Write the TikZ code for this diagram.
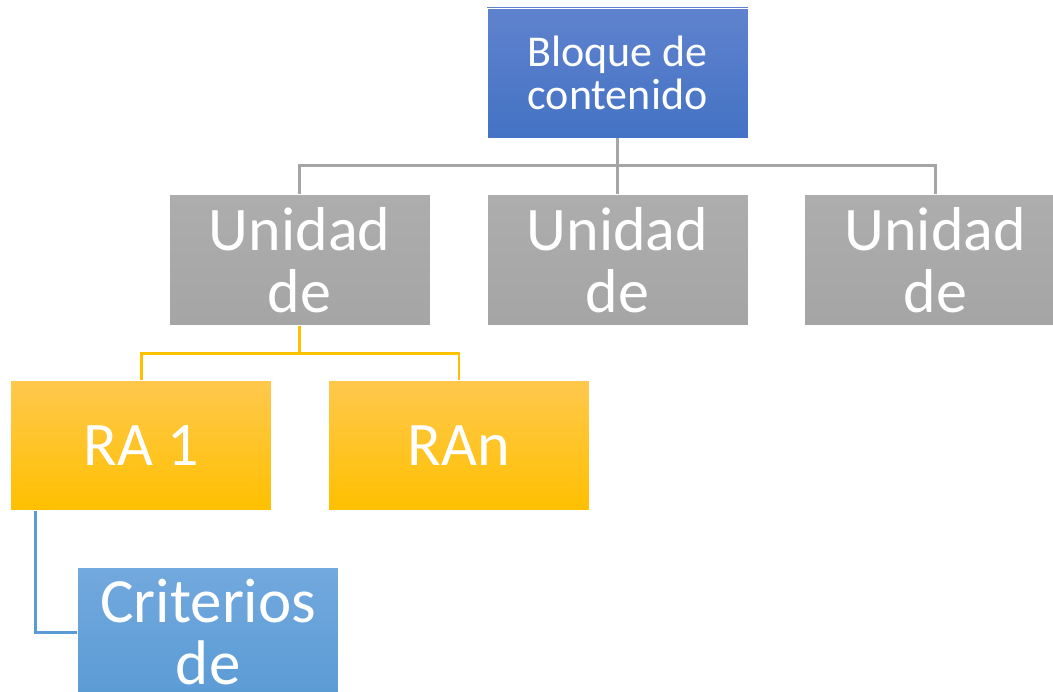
\documentclass[tikz,border=0pt]{standalone}
\usepackage{fontspec}
\setmainfont{Carlito}
\usepackage{tikz}
\usetikzlibrary{positioning}
\definecolor{blockblue}{HTML}{4472C4}
\definecolor{blockbluetop}{HTML}{5F83CE}
\definecolor{unitgray}{HTML}{A5A5A5}
\definecolor{unitgraytop}{HTML}{ADADAD}
\definecolor{ragold}{HTML}{FFC000}
\definecolor{ragoldtop}{HTML}{FFC84D}
\definecolor{critblue}{HTML}{5B9BD5}
\definecolor{critbluetop}{HTML}{72A9DE}
\tikzset{
    %Define style for boxes
    boxbase/.style={
           rectangle,
           draw=white, line width=0.8pt,
           minimum width=261pt,
           minimum height=130pt,
           inner sep=0pt,
           text=white,
           align=center},
    blockbox/.style={
           boxbase,
           top color=blockbluetop,
           bottom color=blockblue,
           font=\fontsize{44}{43}\selectfont},
    unitbox/.style={
           boxbase,
           minimum height=131pt,
           top color=unitgraytop,
           bottom color=unitgray,
           font=\fontsize{62}{62}\selectfont},
    rabox/.style={
           boxbase,
           top color=ragoldtop,
           bottom color=ragold,
           font=\fontsize{62}{62}\selectfont},
    critbox/.style={
           boxbase,
           top color=critbluetop,
           bottom color=critblue,
           font=\fontsize{63}{62}\selectfont},
    % Define connector styles
    graylink/.style={draw=unitgray, line width=2.8pt},
    goldlink/.style={draw=ragold, line width=2.8pt},
    bluelink/.style={draw=critblue, line width=2.8pt}
}

\begin{document}
\begin{tikzpicture}[x=1pt,y=1pt,node distance=56pt]
\useasboundingbox (0,-692) rectangle (1053,0);
\clip (0,-692) rectangle (1053,0);
\node[blockbox](top) at (617.5,-73){Bloque de\\contenido};
\node[unitbox, below=of top](u2){Unidad\\de};
\node[unitbox, left=of u2](u1){Unidad\\de};
\node[unitbox, right=of u2](u3){Unidad\\de};
\node[rabox, below=54pt of u1, xshift=-158.5pt](ra1){RA 1};
\node[rabox, right=of ra1](ran){RAn};
\node[critbox, below=of ra1, xshift=67pt](crit){Criterios\\de};
\path[graylink]
	(top.south) edge (u2.north)
	(top.south) -- ++(0,-27) -| (u1.north)
	(top.south) -- ++(0,-27) -| (u3.north);
\path[goldlink]
	(u1.south) -- ++(0,-27) -| (ra1.north)
	(u1.south) -- ++(0,-27) -| (ran.north);
\path[bluelink]
	([xshift=25pt]ra1.south west) |- (crit.west);
\end{tikzpicture}
\end{document}
